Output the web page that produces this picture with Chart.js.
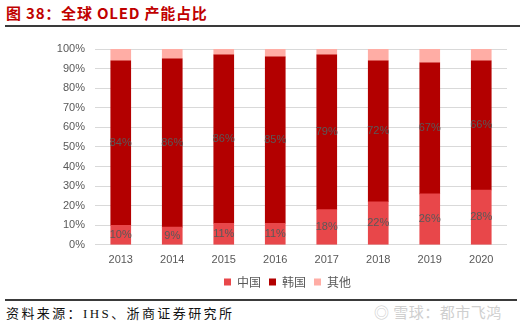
<!DOCTYPE html>
<html>
<head>
<meta charset="utf-8">
<script src="https://cdn.jsdelivr.net/npm/chart.js@4"></script>
<style>
  body { margin: 0; background: #fff; width: 520px; height: 328px; position: relative; overflow: hidden; font-family: "Noto Sans CJK SC", sans-serif; }
  #title { position: absolute; left: 6px; top: 2px; font-size: 15px; font-weight: bold; color: #C00000; letter-spacing: 0.8px; }
  #rule1 { position: absolute; left: 5px; right: 0; top: 25px; height: 2px; background: #3a3a3a; }
  #rule2 { position: absolute; left: 5px; right: 3px; top: 299px; height: 2px; background: #3a3a3a; }
  #source { position: absolute; left: 6px; top: 303px; font-size: 13px; color: #111; letter-spacing: 2.4px; font-family: "Liberation Serif", "Noto Sans CJK SC", serif; }
  #mark { position: absolute; left: 374px; top: 301px; font-size: 15px; color: #cfcfcf; letter-spacing: 0.5px; }
  #wrap { position: absolute; left: 0; top: 0; width: 520px; height: 298px; }
</style>
</head>
<body>
<div id="title">图 38：全球 OLED 产能占比</div>
<div id="rule1"></div>
<div id="wrap"><canvas id="chart" width="520" height="298"></canvas></div>
<div id="rule2"></div>
<div id="source">资料来源：IHS、浙商证券研究所</div>
<div id="mark">◎ 雪球：都市飞鸿</div>
<script>
// Chart data
const years = ['2013', '2014', '2015', '2016', '2017', '2018', '2019', '2020'];
const china = [10, 9, 11, 11, 18, 22, 26, 28];
const korea = [84, 86, 86, 85, 79, 72, 67, 66];
const other = [6, 5, 3, 4, 3, 6, 7, 6];

// Draw % labels inside the China and Korea segments
const barLabels = {
  id: 'barLabels',
  afterDatasetsDraw(chart) {
    const ctx = chart.ctx;
    ctx.save();
    ctx.font = '11px "Liberation Sans", sans-serif';
    ctx.fillStyle = '#595959';
    ctx.textAlign = 'center';
    ctx.textBaseline = 'middle';
    [0, 1].forEach((i) => {
      const meta = chart.getDatasetMeta(i);
      meta.data.forEach((bar, j) => {
        const y = (bar.y + bar.base) / 2;
        ctx.fillText(chart.data.datasets[i].data[j] + '%', bar.x, y);
      });
    });
    ctx.restore();
  }
};

// Legend sits a bit right of the canvas centre in the original
const shiftLegend = {
  id: 'shiftLegend',
  afterLayout(chart) {
    chart.legend.left += 34;
    chart.legend.right += 34;
  }
};

new Chart(document.getElementById('chart'), {
  type: 'bar',
  data: {
    labels: years,
    datasets: [
      { label: '中国', data: china, backgroundColor: '#E8474A' },
      { label: '韩国', data: korea, backgroundColor: '#B30000' },
      { label: '其他', data: other, backgroundColor: '#FFADA5' },
    ],
  },
  options: {
    responsive: false,
    animation: false,
    devicePixelRatio: 1,
    layout: { padding: { top: 49, right: 13, left: 0, bottom: 0 } },
    datasets: { bar: { barThickness: 20 } },
    scales: {
      x: {
        stacked: true,
        grid: { display: false },
        border: { display: false },
        ticks: { color: '#595959', font: { size: 11, family: 'Liberation Sans' }, padding: 1, maxRotation: 0 },
      },
      y: {
        stacked: true,
        min: 0,
        max: 100,
        afterFit: (s) => { s.width = 95; },
        grid: { color: '#D9D9D9', drawTicks: false },
        border: { display: false },
        ticks: {
          stepSize: 10,
          color: '#595959',
          padding: 10,
          font: { size: 11, family: 'Liberation Sans' },
          callback: (v) => v + '%',
        },
      },
    },
    plugins: {
      legend: {
        position: 'bottom',
        labels: {
          boxWidth: 7,
          boxHeight: 7,
          padding: 8,
          color: '#595959',
          font: { size: 12, family: 'Noto Sans CJK SC' },
        },
      },
      tooltip: { enabled: false },
    },
  },
  plugins: [barLabels, shiftLegend],
});
</script>
</body>
</html>
